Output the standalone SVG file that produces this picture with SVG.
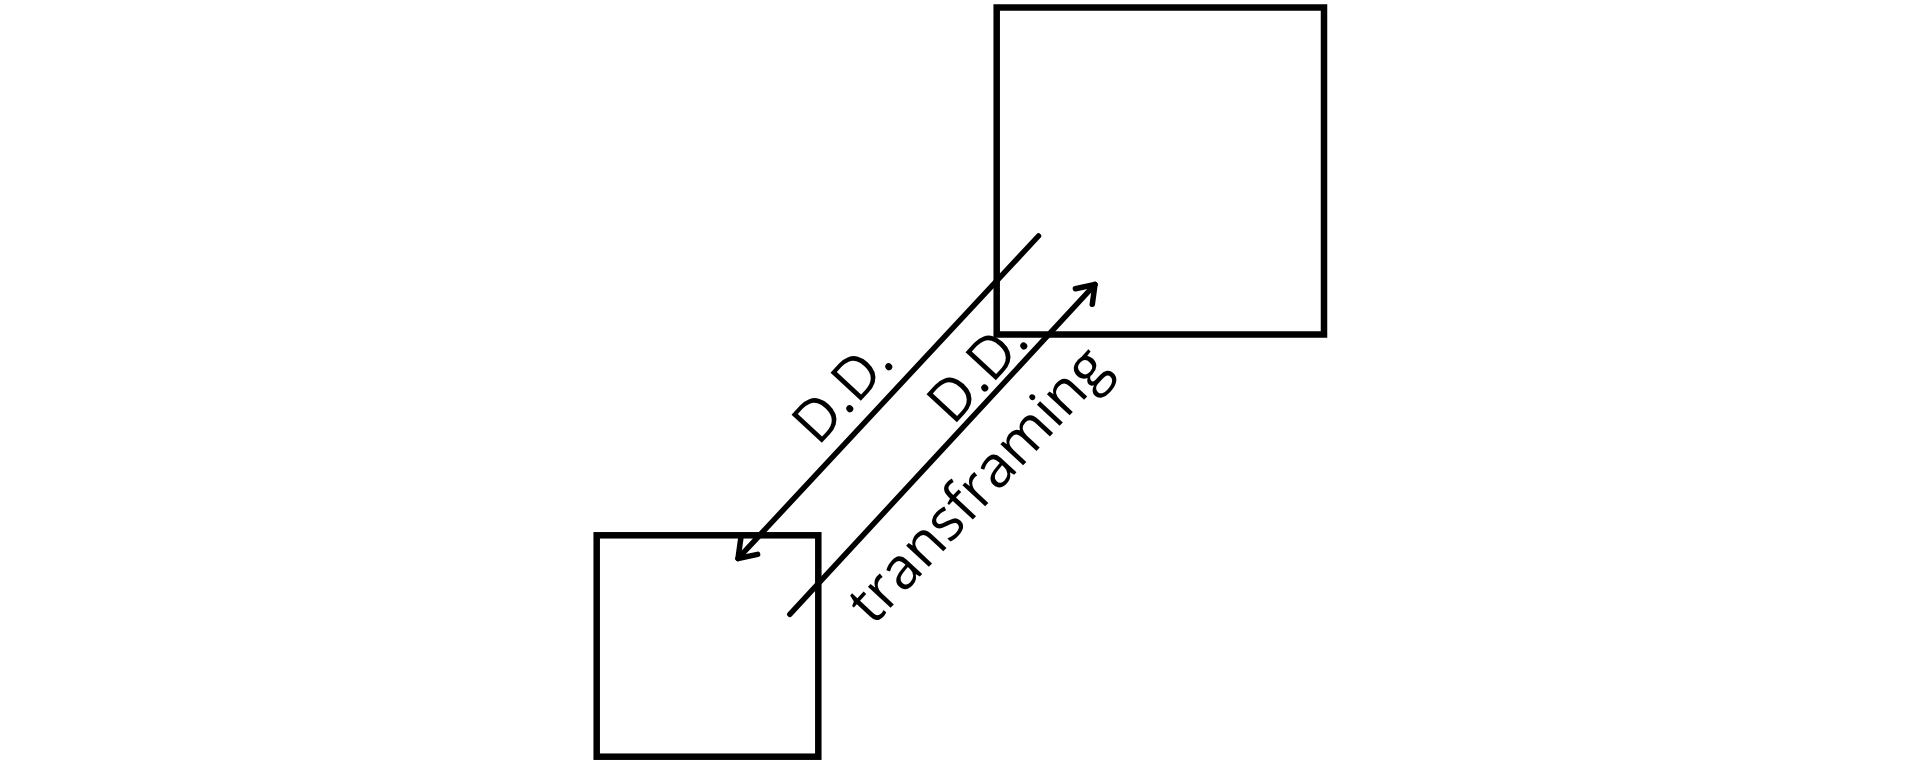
<svg xmlns="http://www.w3.org/2000/svg" width="1920" height="763" viewBox="0 0 1920 763">
  <style>
    .box { fill: none; stroke: #000; stroke-width: 6.5; }
    .edge { fill: none; stroke: #000; stroke-width: 5.5; stroke-linecap: round; }
    .lbl { font-family: "Open Sans", "Noto Sans", sans-serif; font-weight: 400; font-size: 58px; fill: #000; text-anchor: middle; }
  </style>
  <defs>
    <marker id="arrow" markerUnits="userSpaceOnUse" markerWidth="60" markerHeight="60" refX="0" refY="0" orient="auto" overflow="visible">
      <path d="M-16.4,-11.5 L0,0 L-16.4,11.5" fill="none" stroke="#000" stroke-width="5.5" stroke-linecap="round" stroke-linejoin="round"/>
    </marker>
  </defs>
  <rect width="1920" height="763" fill="#fff"/>
  <g id="node-big">
    <rect class="box" x="996.7" y="7.5" width="327.3" height="327"/>
  </g>
  <g id="node-small">
    <rect class="box" x="596.7" y="535.3" width="221.6" height="221.4"/>
  </g>
  <g id="connectors">
    <path class="edge" d="M1038.5,236 L738,558.5" marker-end="url(#arrow)"/>
    <path class="edge" d="M789.8,614.3 L1095,284.5" marker-end="url(#arrow)"/>
  </g>
  <g id="labels">
    <text class="lbl" transform="translate(857.1,405) rotate(-47.1)">D.D.</text>
    <text class="lbl" transform="translate(992.1,384.4) rotate(-47.1)">D.D.</text>
    <text class="lbl" transform="translate(992.6,498.2) rotate(-47.1)">transframing</text>
  </g>
</svg>
